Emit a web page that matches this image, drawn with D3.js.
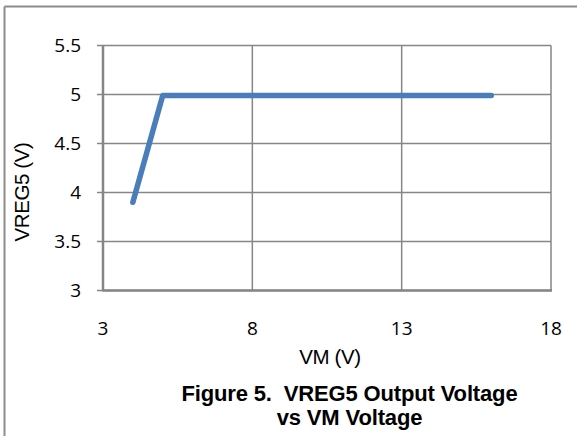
<!DOCTYPE html>
<html><head><meta charset="utf-8">
<script src="https://cdn.jsdelivr.net/npm/d3@7"></script>
<style>
html,body{margin:0;padding:0;background:#fff;}
svg{display:block;}
text{white-space:pre;}
</style></head>
<body>
<script>
const vmValues = [4, 5, 16];
const vregValues = [3.9, 4.99, 4.99];
const xTicks = [3, 8, 13, 18];
const yTicks = [3, 3.5, 4, 4.5, 5, 5.5];
const xTitle = "VM (V)";
const yTitle = "VREG5 (V)";
const captionLines = ["Figure 5.  VREG5 Output Voltage", "vs VM Voltage"];

const W = 577, H = 436;
const svg = d3.select("body").append("svg").attr("width", W).attr("height", H);

// outer frame (top & left visible)
svg.append("line").attr("x1", 4.5).attr("x2", W).attr("y1", 6.5).attr("y2", 6.5)
  .attr("stroke", "#8c8c8c").attr("stroke-width", 2);
svg.append("line").attr("x1", 4.5).attr("x2", 4.5).attr("y1", 6.5).attr("y2", H)
  .attr("stroke", "#8c8c8c").attr("stroke-width", 2);

const L = 103, R = 551, T = 45.5, B = 290.5;
const x = d3.scaleLinear().domain([3, 18]).range([L, R]);
const y = d3.scaleLinear().domain([3, 5.5]).range([B, T]);

// gridlines
const g = svg.append("g");
g.selectAll(".vg").data(xTicks).enter().append("line")
  .attr("x1", d => x(d)).attr("x2", d => x(d)).attr("y1", T).attr("y2", B)
  .attr("stroke", "#868686").attr("stroke-width", 1.5);
g.selectAll(".hg").data(yTicks).enter().append("line")
  .attr("x1", L - 6).attr("x2", R).attr("y1", d => y(d)).attr("y2", d => y(d))
  .attr("stroke", "#868686").attr("stroke-width", 1.5);

// axes lines
svg.append("line").attr("x1", L).attr("x2", L).attr("y1", T).attr("y2", B + 1)
  .attr("stroke", "#868686").attr("stroke-width", 2.5);
svg.append("line").attr("x1", L).attr("x2", R + 1).attr("y1", B).attr("y2", B)
  .attr("stroke", "#868686").attr("stroke-width", 2.5);

// tick labels
const tickFont = "'Open Sans', 'Noto Sans', sans-serif";
svg.selectAll(".yl").data(yTicks).enter().append("text")
  .attr("x", 81).attr("y", d => y(d)).attr("dy", "0.36em")
  .attr("text-anchor", "end").attr("font-family", tickFont).attr("font-size", 19)
  .attr("fill", "#000").text(d => d);
svg.selectAll(".xl").data(xTicks).enter().append("text")
  .attr("x", d => x(d)).attr("y", 328).attr("dy", "0.36em")
  .attr("text-anchor", "middle").attr("font-family", tickFont).attr("font-size", 19)
  .attr("fill", "#000").text(d => d);

// axis titles
svg.append("text").attr("x", 330).attr("y", 357).attr("dy", "0.35em")
  .attr("text-anchor", "middle").attr("font-family", "'Liberation Sans', Arial, sans-serif")
  .attr("font-size", 20.5).attr("letter-spacing", -0.4).text(xTitle);
svg.append("text").attr("transform", "translate(22,192) rotate(-90)").attr("dy", "0.35em")
  .attr("text-anchor", "middle").attr("font-family", "'Liberation Sans', Arial, sans-serif")
  .attr("font-size", 20.5).attr("letter-spacing", -0.4).text(yTitle);

// caption
svg.selectAll(".cap").data(captionLines).enter().append("text")
  .attr("x", 349.5).attr("y", (d, i) => 393.5 + i * 24).attr("dy", "0.35em")
  .attr("text-anchor", "middle").attr("font-family", "'Liberation Sans', Arial, sans-serif")
  .attr("font-weight", "bold").attr("font-size", 22).attr("letter-spacing", -0.15)
  .text(d => d);

// data line
const pts = vmValues.map((v, i) => [v, vregValues[i]]);
svg.append("path").datum(pts)
  .attr("d", d3.line().x(d => x(d[0])).y(d => y(d[1])))
  .attr("fill", "none").attr("stroke", "#4a7ebb").attr("stroke-width", 5.5)
  .attr("stroke-linejoin", "round").attr("stroke-linecap", "round");
</script>
</body></html>
